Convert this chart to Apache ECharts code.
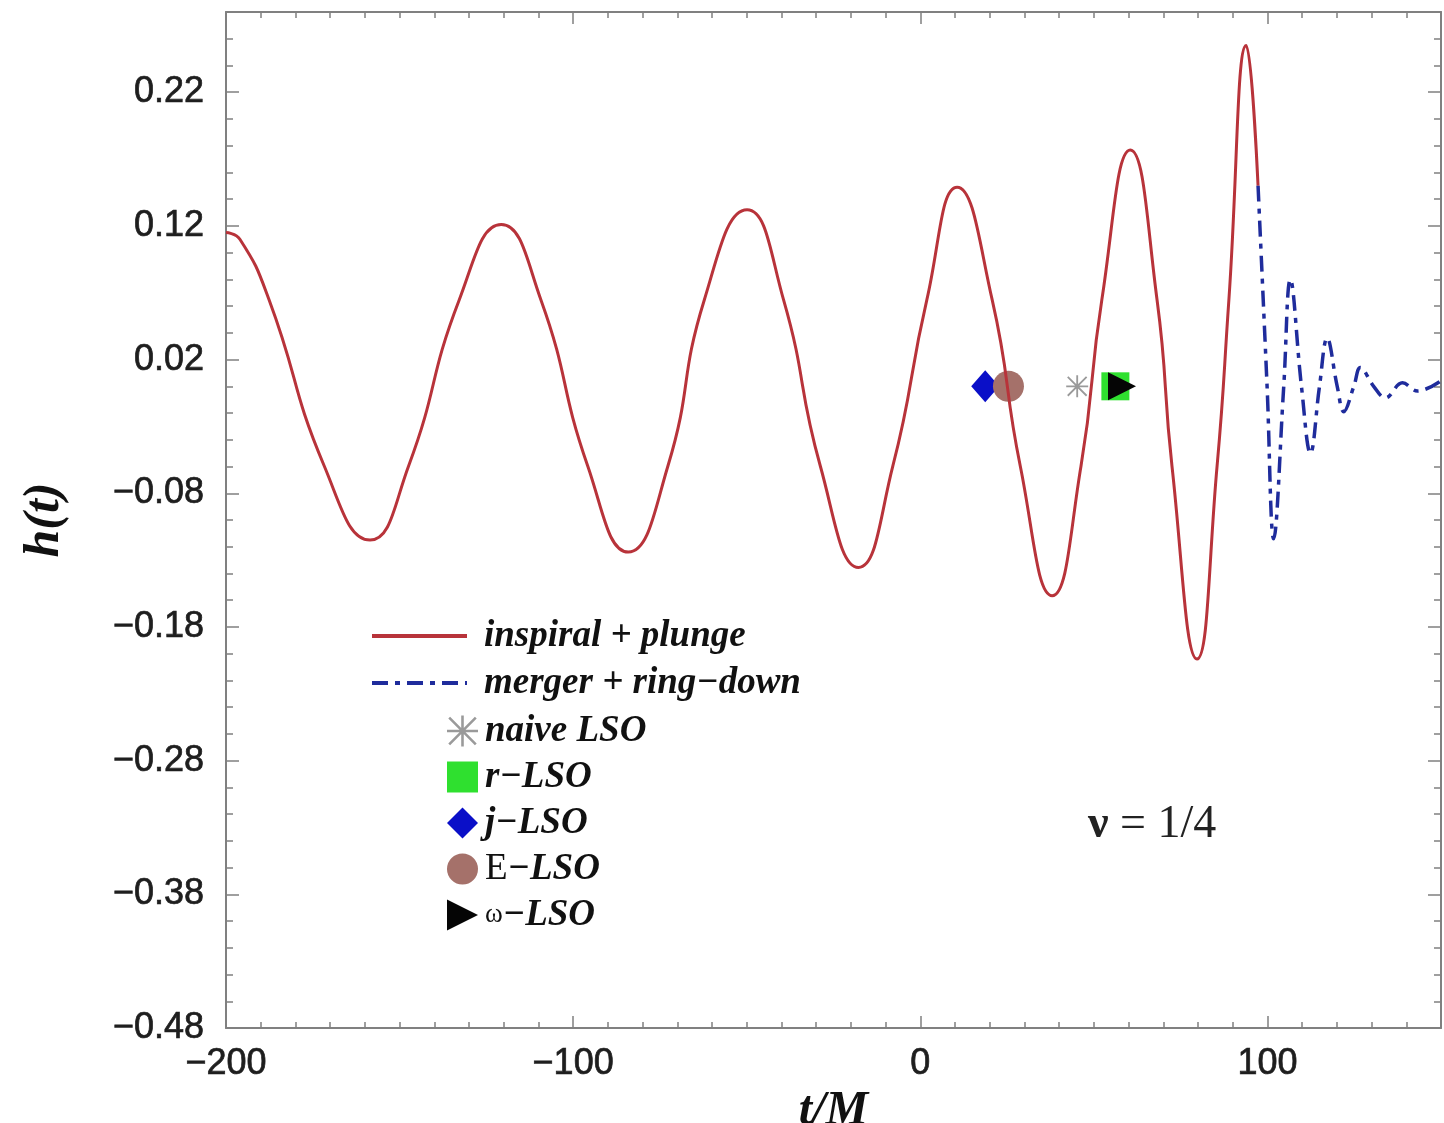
<!DOCTYPE html>
<html>
<head>
<meta charset="utf-8">
<title>h(t) waveform, ν = 1/4</title>
<script src="https://cdn.jsdelivr.net/npm/echarts@6/dist/echarts.min.js"></script>
<style>
  html, body { margin: 0; padding: 0; background: #ffffff; }
  #chart { width: 1444px; height: 1123px; }
</style>
</head>
<body>
<div id="chart"></div>
<script>
// Inspiral + plunge: extrema and flank points (h ≈ +0.065 / −0.060) of each half-cycle.
const inspiralPlunge = [
  [-200, 0.115], [-196, 0.110], [-187.6, 0.0648], [-171.7, -0.0596],
  [-158.5, -0.115],
  [-147.4, -0.0596], [-132.8, 0.0648],
  [-120.7, 0.121],
  [-109.3, 0.0648], [-95.8, -0.0596],
  [-84.1, -0.124],
  [-72.7, -0.0596], [-62.2, 0.0648],
  [-49.9, 0.132],
  [-39.4, 0.0648], [-28.8, -0.0596],
  [-17.8, -0.1355],
  [-7.9, -0.0596], [1.9, 0.0648],
  [10.6, 0.149],
  [20.7, 0.0648], [28.8, -0.0596],
  [38.0, -0.1566],
  [46.3, -0.0596], [52.3, 0.0648],
  [60.5, 0.1767],
  [68.2, 0.0648], [72.5, -0.0596],
  [79.7, -0.204],
  [85.5, -0.0596], [88.9, 0.0648],
  [93.9, 0.255], [97.3, 0.15]
];
// Merger + ring-down: extrema and zero crossings
const mergerRingdown = [
  [97.3, 0.15], [99.9, 0], [101.8, -0.114], [104.7, 0],
  [106.6, 0.08], [109.8, 0], [112.4, -0.05], [115.0, 0],
  [117.2, 0.036], [120.1, 0], [122.0, -0.019], [124.9, 0],
  [126.8, 0.014], [130.6, 0], [134.0, -0.0086], [138.9, 0.0026],
  [143.2, -0.0035], [149.9, 0.004]
];

// Last-stable-orbit markers
const naiveLSO = [[45.2, 0]];
const rLSO = [[56.2, 0]];
const jLSO = [[18.7, 0]];
const eLSO = [[25.4, 0]];
const omegaLSO = [[58.1, 0]];

// Axis ranges and tick labels
const xRange = [-200, 150];
const yRange = [-0.48, 0.28];
const xTickLabels = [-200, -100, 0, 100];
const yTickLabels = [-0.48, -0.38, -0.28, -0.18, -0.08, 0.02, 0.12, 0.22];
const xMinorStep = 10;
const yMinorStep = 0.02;

const xMinorTicks = [];
for (let v = xRange[0]; v <= xRange[1] + 1e-9; v += xMinorStep) xMinorTicks.push(Math.round(v));
const yMinorTicks = [];
for (let i = 0; yRange[0] + i * yMinorStep <= yRange[1] + 1e-9; i++) {
  yMinorTicks.push(Math.round((yRange[0] + i * yMinorStep) * 100) / 100);
}

const frameColor = '#808080';
const tickFont = {
  fontFamily: 'Liberation Sans, Arial, sans-serif', fontSize: 36, color: '#1e1e1e',
  textBorderColor: '#1e1e1e', textBorderWidth: 0.7
};
const serifBI = { fontFamily: 'Liberation Serif, Times New Roman, serif', fontStyle: 'italic', fontWeight: 'bold', color: '#111' };
const minus = v => String(v).replace('-', '\u2212');

function xAxisDef(position, ticks, tickLen, showLine, labels) {
  const ax = {
    type: 'value', min: xRange[0], max: xRange[1], position: position,
    axisLine: { show: showLine, onZero: false, lineStyle: { color: frameColor, width: 2 } },
    axisTick: { show: true, inside: true, length: tickLen, customValues: ticks, lineStyle: { color: frameColor, width: 1.5 } },
    axisLabel: { show: false },
    splitLine: { show: false }
  };
  if (labels) {
    ax.axisLabel = Object.assign({ show: true, customValues: xTickLabels, margin: 18, formatter: minus }, tickFont);
    ax.name = 't/M';
    ax.nameLocation = 'middle';
    ax.nameGap = 56;
    ax.nameTextStyle = Object.assign({ fontSize: 48 }, serifBI);
  }
  return ax;
}

function yAxisDef(position, ticks, tickLen, showLine, labels) {
  const ax = {
    type: 'value', min: yRange[0], max: yRange[1], position: position,
    axisLine: { show: showLine, onZero: false, lineStyle: { color: frameColor, width: 2 } },
    axisTick: { show: true, inside: true, length: tickLen, customValues: ticks, lineStyle: { color: frameColor, width: 1.5 } },
    axisLabel: { show: false },
    splitLine: { show: false }
  };
  if (labels) {
    ax.axisLabel = Object.assign({ show: true, customValues: yTickLabels, margin: 22, formatter: v => minus(v.toFixed(2)) }, tickFont);
    ax.name = 'h(t)';
    ax.nameLocation = 'middle';
    ax.nameGap = 156;
    ax.nameTextStyle = Object.assign({ fontSize: 50 }, serifBI);
  }
  return ax;
}

// Eight-armed asterisk built from filled bars
const asteriskPath = 'path://M0,11 L24,11 L24,13 L0,13 Z M11,0 L13,0 L13,24 L11,24 Z ' +
  'M1,2.4 L2.4,1 L23,21.6 L21.6,23 Z M21.6,1 L23,2.4 L2.4,23 L1,21.6 Z';
const rightTriangle = 'path://M0,0 L20,10 L0,20 Z';

const legendText = {
  'naive LSO': 'naive LSO',
  'r\u2212LSO': 'r\u2212LSO',
  'j\u2212LSO': 'j\u2212LSO',
  'E\u2212LSO': '{u|E}\u2212LSO',
  '\u03c9\u2212LSO': '{w|\u03c9}\u2212LSO'
};
const uprightSerif = { fontFamily: 'Liberation Serif, serif', fontStyle: 'normal', fontWeight: 'normal', lineHeight: 40, color: '#111' };

const option = {
  backgroundColor: '#ffffff',
  animation: false,
  grid: { left: 226, right: 3, top: 12, bottom: 95, containLabel: false, outerBoundsMode: 'none' },
  xAxis: [
    xAxisDef('bottom', xTickLabels, 12, true, true),
    xAxisDef('bottom', xMinorTicks, 6, false, false),
    xAxisDef('top', xTickLabels, 12, true, false),
    xAxisDef('top', xMinorTicks, 6, false, false)
  ],
  yAxis: [
    yAxisDef('left', yTickLabels, 13, true, true),
    yAxisDef('left', yMinorTicks, 7, false, false),
    yAxisDef('right', yTickLabels, 13, true, false),
    yAxisDef('right', yMinorTicks, 7, false, false)
  ],
  legend: [
    {
      orient: 'vertical', left: 365, top: 611, itemWidth: 95, itemHeight: 30, itemGap: 7,
      data: ['inspiral + plunge', 'merger + ring\u2212down'],
      itemStyle: { opacity: 0 },
      lineStyle: { width: 4 },
      textStyle: Object.assign({ fontSize: 37, lineHeight: 40, padding: [0, 0, 0, 12] }, serifBI)
    },
    {
      orient: 'vertical', left: 442, top: 706, itemWidth: 31, itemHeight: 31, itemGap: 6,
      data: ['naive LSO', 'r\u2212LSO', 'j\u2212LSO', 'E\u2212LSO', '\u03c9\u2212LSO'],
      formatter: name => legendText[name],
      textStyle: Object.assign({
        fontSize: 37, lineHeight: 40, padding: [0, 0, 0, 2],
        rich: {
          u: Object.assign({ fontSize: 37 }, uprightSerif),
          w: Object.assign({ fontSize: 27 }, uprightSerif)
        }
      }, serifBI)
    }
  ],
  graphic: [
    {
      type: 'text', left: 1088, top: 802,
      style: {
        text: '{g|\u03bd}{n| = 1/4}',
        rich: {
          g: { fontFamily: 'Liberation Serif, serif', fontWeight: 'bold', fontSize: 46, fill: '#222' },
          n: { fontFamily: 'Liberation Serif, serif', fontSize: 46, fill: '#222' }
        }
      }
    }
  ],
  series: [
    {
      name: 'j\u2212LSO', type: 'scatter', data: jLSO, symbol: 'diamond', symbolSize: [28, 32],
      itemStyle: { color: '#0a0fc8', opacity: 1 }, z: 2
    },
    {
      name: 'E\u2212LSO', type: 'scatter', data: eLSO, symbol: 'circle', symbolSize: 31,
      itemStyle: { color: '#a5716a', opacity: 1 }, z: 2
    },
    {
      name: 'naive LSO', type: 'scatter', data: naiveLSO, symbol: asteriskPath, symbolSize: 22,
      itemStyle: { color: '#9a9a9a', opacity: 1 }, z: 2
    },
    {
      name: 'r\u2212LSO', type: 'scatter', data: rLSO, symbol: 'rect', symbolSize: 28,
      itemStyle: { color: '#2fe02f', opacity: 1 }, z: 2
    },
    {
      name: '\u03c9\u2212LSO', type: 'scatter', data: omegaLSO, symbol: rightTriangle, symbolSize: 28,
      itemStyle: { color: '#050505', opacity: 1 }, z: 2
    },
    {
      name: 'inspiral + plunge', type: 'line', data: inspiralPlunge, smooth: 0.5,
      symbol: 'none', showSymbol: false,
      lineStyle: { color: '#b8333a', width: 3 }, itemStyle: { color: '#b8333a' }, z: 3
    },
    {
      name: 'merger + ring\u2212down', type: 'line', data: mergerRingdown, smooth: 0.4,
      symbol: 'none', showSymbol: false,
      lineStyle: { color: '#1f2c9c', width: 3.5, type: [16, 7, 5, 7] }, itemStyle: { color: '#1f2c9c' }, z: 3
    }
  ]
};

const chart = echarts.init(document.getElementById('chart'), null, { renderer: 'canvas' });
chart.setOption(option);
</script>
</body>
</html>
